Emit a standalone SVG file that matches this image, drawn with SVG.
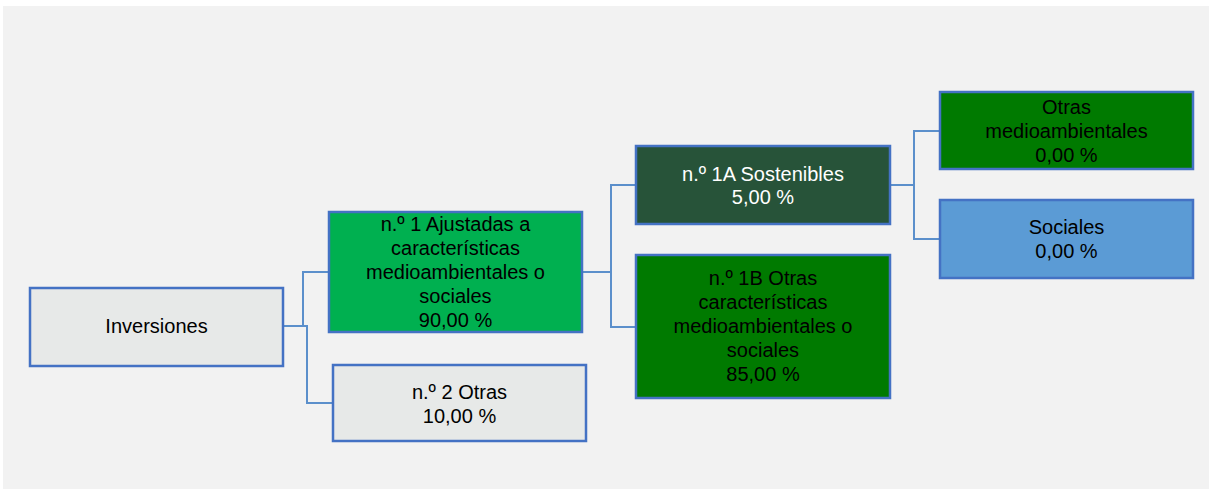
<svg xmlns="http://www.w3.org/2000/svg" width="1212" height="489" viewBox="0 0 1212 489">
<style>
.box{stroke:#4472c4;stroke-width:2.5}
.t{font-family:"Liberation Sans",Arial,sans-serif;font-size:20px;fill:#000;text-anchor:middle;dominant-baseline:central}
.w{fill:#fff}
.c{fill:none;stroke:#5b8fcb;stroke-width:2}
</style>
<rect x="0" y="0" width="1212" height="489" fill="#ffffff"/>
<rect x="3" y="6" width="1206" height="483" fill="#f2f2f2"/>
<g id="connectors">
<polyline class="c" points="283,326 303,326 303,272 329,272"/>
<polyline class="c" points="283,326 307,326 307,403 333,403"/>
<polyline class="c" points="582,272 611,272"/>
<polyline class="c" points="636,185 611,185 611,327 636,327"/>
<polyline class="c" points="890,185 914,185"/>
<polyline class="c" points="940,131 914,131 914,239 940,239"/>
</g>
<g id="inversiones">
<rect class="box" x="30" y="288" width="253" height="78" fill="#e7e9e8"/>
<text class="t" x="156.5" y="326">Inversiones</text>
</g>
<g id="n1">
<rect class="box" x="329" y="212" width="253" height="120" fill="#00b050"/>
<text class="t" x="455.5" y="224">n.º 1 Ajustadas a</text>
<text class="t" x="455.5" y="248">características</text>
<text class="t" x="455.5" y="272">medioambientales o</text>
<text class="t" x="455.5" y="296">sociales</text>
<text class="t" x="455.5" y="320">90,00 %</text>
</g>
<g id="n2">
<rect class="box" x="333" y="365" width="253" height="76" fill="#e7e9e8"/>
<text class="t" x="459.5" y="392">n.º 2 Otras</text>
<text class="t" x="459.5" y="416">10,00 %</text>
</g>
<g id="n1a">
<rect class="box" x="636" y="146" width="254" height="78" fill="#275339"/>
<text class="t w" x="763" y="173.5">n.º 1A Sostenibles</text>
<text class="t w" x="763" y="197">5,00 %</text>
</g>
<g id="n1b">
<rect class="box" x="636" y="255" width="254" height="143" fill="#007a00"/>
<text class="t" x="763" y="278">n.º 1B Otras</text>
<text class="t" x="763" y="302">características</text>
<text class="t" x="763" y="326">medioambientales o</text>
<text class="t" x="763" y="350">sociales</text>
<text class="t" x="763" y="374">85,00 %</text>
</g>
<g id="otras-medio">
<rect class="box" x="940" y="92" width="253" height="77" fill="#007a00"/>
<text class="t" x="1066.5" y="107">Otras</text>
<text class="t" x="1066.5" y="131">medioambientales</text>
<text class="t" x="1066.5" y="155">0,00 %</text>
</g>
<g id="sociales">
<rect class="box" x="940" y="200" width="253" height="78" fill="#5b9bd5"/>
<text class="t" x="1066.5" y="227">Sociales</text>
<text class="t" x="1066.5" y="251">0,00 %</text>
</g>
</svg>
